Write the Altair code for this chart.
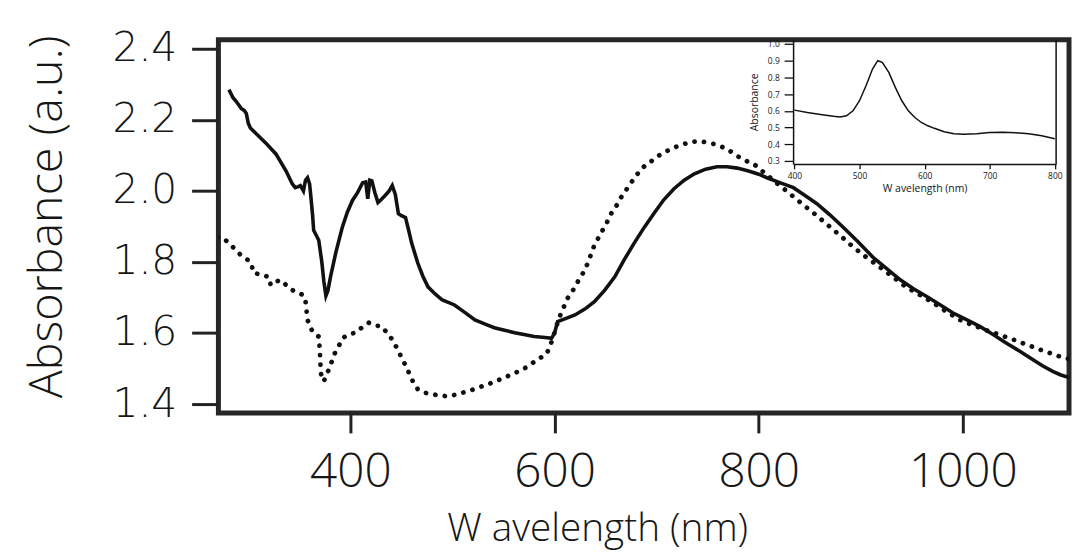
import altair as alt
import pandas as pd

# ---- main spectrum: solid curve ----
solid_x = [281, 285, 288, 291, 293, 296, 298, 300, 302, 307, 317, 327, 337, 343, 346, 349, 351, 354, 356, 358,
           360, 361, 363, 364, 369, 372, 374, 376, 378, 380.5, 386, 392, 397, 402, 407, 412, 415, 417, 419, 421,
           424, 427, 430, 434, 438, 441, 444, 447, 450, 454, 457, 460, 466, 471, 476, 483, 490, 502, 512, 522,
           532, 541, 551, 561, 570, 580, 588, 593, 597, 600, 603, 610, 620, 630, 639, 649, 659, 668, 678, 688,
           698, 707, 717, 727, 737, 748, 759, 769, 779, 790, 800, 808, 820, 834, 845, 857, 870, 883, 898, 912,
           926, 939, 952, 965, 978, 990, 1004, 1017, 1030, 1042, 1055, 1068, 1078, 1088, 1096, 1104]
solid_y = [2.285, 2.262, 2.252, 2.240, 2.232, 2.226, 2.218, 2.190, 2.177, 2.163, 2.135, 2.104, 2.056, 2.020, 2.009,
           2.012, 2.015, 2.000, 2.030, 2.037, 2.020, 1.992, 1.930, 1.889, 1.861, 1.800, 1.745, 1.705, 1.720, 1.758,
           1.830, 1.897, 1.940, 1.973, 1.995, 2.023, 2.025, 1.978, 2.030, 2.028, 1.995, 1.967, 1.975, 1.987, 2.000,
           2.015, 1.990, 1.936, 1.930, 1.925, 1.890, 1.853, 1.797, 1.760, 1.730, 1.710, 1.693, 1.679, 1.658, 1.637,
           1.625, 1.615, 1.608, 1.601, 1.596, 1.590, 1.588, 1.587, 1.585, 1.600, 1.632, 1.640, 1.651, 1.668, 1.688,
           1.720, 1.758, 1.805, 1.853, 1.898, 1.939, 1.975, 2.006, 2.030, 2.048, 2.061, 2.068, 2.068, 2.064, 2.056,
           2.047, 2.037, 2.024, 2.009, 1.988, 1.964, 1.932, 1.897, 1.855, 1.813, 1.780, 1.749, 1.724, 1.702, 1.679,
           1.657, 1.637, 1.618, 1.595, 1.573, 1.550, 1.526, 1.508, 1.492, 1.482, 1.475]

# ---- main spectrum: dotted curve ----
dotted_x = [270, 276, 282, 288, 294, 300, 303, 305, 312, 320, 322, 327, 332, 337, 343, 349, 354, 356, 358, 361,
            363, 369, 370, 371, 372, 374, 376, 379, 385, 393, 399, 405, 411, 418, 424, 431, 436, 441, 446, 451,
            456, 460, 466, 473, 480, 488, 496, 505, 515, 525, 535, 543, 551, 560, 569, 576, 583, 588, 592, 595,
            598, 601, 605, 609, 613, 618, 622, 627, 631, 635, 639, 643, 647, 652, 656, 661, 665, 670, 675, 680,
            685, 690, 695, 702, 710, 718, 727, 733, 740, 748, 756, 762, 769, 779, 788, 795, 805, 815, 828, 841,
            854, 866, 880, 893, 906, 919, 932, 944, 958, 971, 984, 997, 1010, 1022, 1036, 1049, 1062, 1075, 1085,
            1095, 1104]
dotted_y = [1.870, 1.866, 1.850, 1.833, 1.815, 1.805, 1.795, 1.769, 1.765, 1.758, 1.735, 1.745, 1.749, 1.735,
            1.721, 1.712, 1.707, 1.690, 1.637, 1.615, 1.604, 1.590, 1.554, 1.489, 1.475, 1.464, 1.480, 1.498,
            1.545, 1.587, 1.597, 1.601, 1.615, 1.629, 1.622, 1.618, 1.600, 1.582, 1.555, 1.526, 1.497, 1.470,
            1.442, 1.432, 1.428, 1.424, 1.422, 1.428, 1.436, 1.446, 1.456, 1.465, 1.475, 1.486, 1.498, 1.510,
            1.526, 1.533, 1.540, 1.560, 1.582, 1.612, 1.646, 1.673, 1.699, 1.720, 1.741, 1.764, 1.786, 1.816,
            1.847, 1.868, 1.889, 1.915, 1.939, 1.960, 1.981, 2.002, 2.023, 2.043, 2.062, 2.074, 2.084, 2.099,
            2.112, 2.123, 2.132, 2.137, 2.140, 2.137, 2.132, 2.126, 2.118, 2.098, 2.084, 2.076, 2.052, 2.028,
            1.998, 1.967, 1.937, 1.908, 1.874, 1.841, 1.812, 1.785, 1.757, 1.730, 1.707, 1.685, 1.660, 1.637,
            1.622, 1.609, 1.595, 1.582, 1.568, 1.554, 1.544, 1.534, 1.527]

# ---- inset spectrum ----
inset_x = [400, 420, 440, 460, 470, 480, 490, 500, 510, 520, 528, 535, 545, 555, 565, 575, 585, 595, 605, 615,
           630, 645, 660, 680, 700, 720, 740, 760, 780, 800]
inset_y = [0.604, 0.590, 0.578, 0.567, 0.563, 0.570, 0.600, 0.660, 0.750, 0.850, 0.900, 0.890, 0.830, 0.740,
           0.660, 0.600, 0.560, 0.530, 0.510, 0.495, 0.475, 0.462, 0.459, 0.462, 0.470, 0.472, 0.468, 0.462,
           0.450, 0.433]

main_x_ticks = [400, 600, 800, 1000]
main_y_ticks = [1.4, 1.6, 1.8, 2.0, 2.2, 2.4]
inset_x_ticks = [400, 500, 600, 700, 800]
inset_y_ticks = [0.3, 0.4, 0.5, 0.6, 0.7, 0.8, 0.9, 1.0]

solid_df = pd.DataFrame({"x": solid_x, "y": solid_y})
dotted_df = pd.DataFrame({"x": dotted_x, "y": dotted_y})
inset_df = pd.DataFrame({"x": inset_x, "y": inset_y})

W, H = 857, 376
MAIN_FONT = "Open Sans"
INK = "#161616"

xscale = alt.Scale(domain=[270.7, 1104], nice=False, zero=False)
yscale = alt.Scale(domain=[1.375, 2.425], nice=False, zero=False)

xaxis = alt.Axis(
    values=main_x_ticks, format="d", domain=False, grid=False, orient="bottom",
    tickSize=20, tickWidth=3, tickColor="#222",
    labelFont=MAIN_FONT, labelFontSize=48, labelFontWeight=300, labelColor=INK, labelBaseline="alphabetic",
    labelPadding=54, labelFlush=False, labelOverlap=False,
    title="W avelength (nm)", titleFont=MAIN_FONT, titleFontSize=39, titleFontWeight=300,
    titleColor=INK, titleX=230, titleY=128, titleAlign="left", titleBaseline="alphabetic",
)
yaxis = alt.Axis(
    values=main_y_ticks, format=".1f", domain=False, grid=False, orient="left",
    tickSize=27, tickWidth=3, tickColor="#222",
    labelFont="DejaVu Sans", labelFontSize=41, labelFontWeight=200, labelColor=INK, labelPadding=15,
    labelFlush=False, labelOverlap=False,
    title="Absorbance (a.u.)", titleFont=MAIN_FONT, titleFontSize=47, titleFontWeight=300,
    titleColor=INK, titleX=-158, titleY=178, titleAngle=270, titleAlign="center",
    titleBaseline="alphabetic",
)

solid = alt.Chart(solid_df).mark_line(color="#111", strokeWidth=3.6, clip=True).encode(
    x=alt.X("x:Q", scale=xscale, axis=xaxis),
    y=alt.Y("y:Q", scale=yscale, axis=yaxis),
)
dotted = alt.Chart(dotted_df).mark_line(
    color="#111", strokeWidth=4.8, strokeDash=[0.1, 9.5], strokeCap="round", clip=True
).encode(
    x=alt.X("x:Q", scale=xscale),
    y=alt.Y("y:Q", scale=yscale),
)
main = alt.layer(solid, dotted)

# ---- inset, placed with explicit pixel ranges inside the plot area ----
ix_scale = alt.Scale(domain=[398, 802], range=[579, 844], nice=False, zero=False)
iy_scale = alt.Scale(domain=[0.282, 1.025], range=[125, 0], nice=False, zero=False)

ixaxis = alt.Axis(
    values=inset_x_ticks, format="d", orient="bottom", offset=-(H - 125), grid=False,
    domainColor="#111", domainWidth=1.5, tickColor="#111", tickWidth=1.3, tickSize=5,
    labelFont=MAIN_FONT, labelFontSize=8.5, labelColor=INK, labelPadding=3,
    labelFlush=False, labelOverlap=False,
    title="W avelength (nm)", titleFont=MAIN_FONT, titleFontSize=10.5, titleFontWeight="normal",
    titleColor=INK, titlePadding=3,
)
iyaxis = alt.Axis(
    values=inset_y_ticks, format=".1f", orient="left", offset=-579, grid=False,
    domainColor="#111", domainWidth=1.5, tickColor="#111", tickWidth=1.3, tickSize=9,
    labelFont=MAIN_FONT, labelFontSize=8.5, labelColor=INK, labelPadding=5,
    labelFlush=False, labelOverlap=False,
    title="Absorbance", titleFont=MAIN_FONT, titleFontSize=10.5, titleFontWeight="normal",
    titleColor=INK, titlePadding=8,
)

inset_line = alt.Chart(inset_df).mark_line(color="#111", strokeWidth=1.5).encode(
    x=alt.X("x:Q", scale=ix_scale, axis=ixaxis),
    y=alt.Y("y:Q", scale=iy_scale, axis=iyaxis),
)
inset_border = alt.Chart(pd.DataFrame({"x": [802], "y": [0.282], "y2": [1.025]})).mark_rule(
    color="#111", strokeWidth=1.5
).encode(
    x=alt.X("x:Q", scale=ix_scale),
    y=alt.Y("y:Q", scale=iy_scale),
    y2="y2:Q",
)
inset = alt.layer(inset_line, inset_border)

chart = (
    alt.layer(main, inset)
    .resolve_scale(x="independent", y="independent")
    .resolve_axis(x="independent", y="independent")
    .properties(
        width=W, height=H,
        autosize=alt.AutoSizeParams(type="none"),
        padding={"left": 212, "top": 30, "right": 3, "bottom": 142},
        background="white",
    )
    .configure_view(stroke="#262626", strokeWidth=5)
)

chart.save("out.html", embed_options={"renderer": "svg", "actions": False})
